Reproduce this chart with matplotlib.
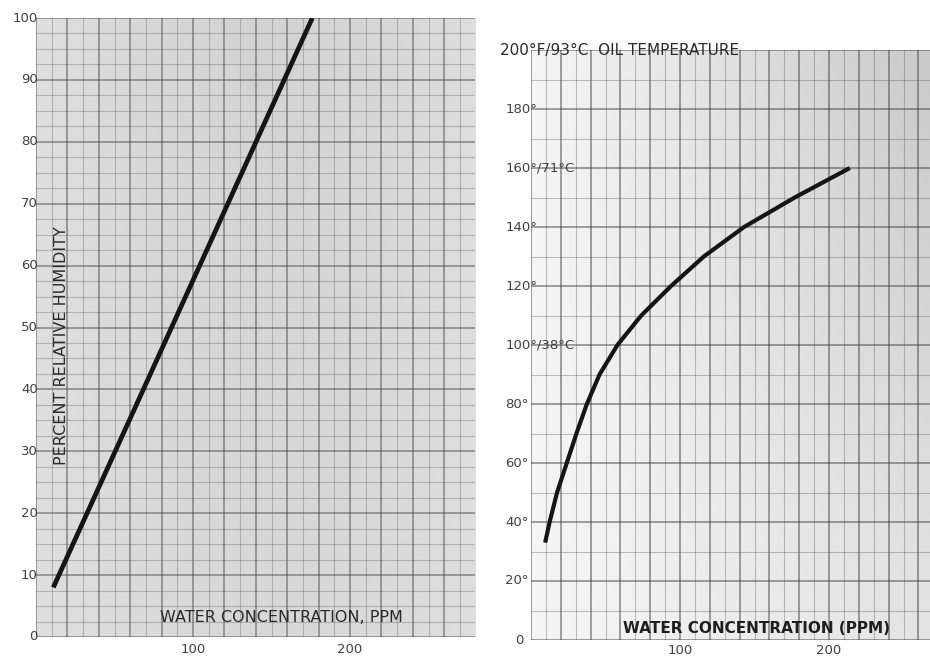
import numpy as np
import matplotlib.pyplot as plt
from matplotlib.ticker import MultipleLocator, NullFormatter

# left chart: percent relative humidity vs water concentration (ppm)
rh_ppm = [11, 176]
rh_pct = [8, 100]
rh_ticks = [0, 10, 20, 30, 40, 50, 60, 70, 80, 90, 100]
rh_labels = ['0', '10', '20', '30', '40', '50', '60', '70', '80', '90', '100']

# right chart: oil temperature (F) vs water concentration (ppm)
temp_ppm = [9.5, 12.5, 17.5, 24, 30.5, 37.5, 46, 58, 74, 94, 116, 143, 177, 214]
temp_f = [33, 40, 50, 60, 70, 80, 90, 100, 110, 120, 130, 140, 150, 160]
temp_ticks = [0, 20, 40, 60, 80, 100, 120, 140, 160, 180]
temp_labels = ['0', '20°', '40°', '60°', '80°', '100°/38°C', '120°', '140°',
               '160°/71°C', '180°']
temp_title = '200°F/93°C  OIL TEMPERATURE'

ppm_ticks = [100, 200]
ppm_labels = ['100', '200']

W, H = 930, 657
fig = plt.figure(figsize=(W / 100, H / 100), dpi=100)
fig.patch.set_facecolor('white')
plt.rcParams['font.family'] = ['DejaVu Sans']

ax1 = fig.add_axes([36 / W, 20 / H, 439 / W, 619 / H])
ax2 = fig.add_axes([531 / W, 17 / H, 399 / W, 590 / H])


def paper(ax, xmaj, xmin, ymaj, ymin, shade, dark):
	# graph paper look: shaded background plus two weights of grid
	ax.imshow(shade, extent=(0, 1, 0, 1), transform=ax.transAxes, aspect='auto',
			  cmap='gray', vmin=0, vmax=1, zorder=0, interpolation='bicubic')
	ax.xaxis.set_major_locator(MultipleLocator(xmaj))
	ax.xaxis.set_minor_locator(MultipleLocator(xmin))
	ax.yaxis.set_major_locator(MultipleLocator(ymaj))
	ax.yaxis.set_minor_locator(MultipleLocator(ymin))
	ax.xaxis.set_major_formatter(NullFormatter())
	ax.yaxis.set_major_formatter(NullFormatter())
	ax.grid(which='major', color='#3c3c3c', lw=1.1, alpha=dark)
	ax.grid(which='minor', color='#5a5a5a', lw=0.8, alpha=dark * 0.6)
	ax.tick_params(which='both', length=0)
	ax.set_axisbelow(True)
	for s in ax.spines.values():
		s.set_visible(False)


gx, gy = np.meshgrid(np.linspace(0, 1, 40), np.linspace(1, 0, 40))
shade1 = 0.87 - 0.04 * np.sin(gx * 3.0) * (0.6 + 0.4 * gy)
shade2 = 0.96 - 0.17 * gx * (0.4 + 0.6 * gy)

paper(ax1, 20, 10, 10, 2.5, shade1, 0.55)
paper(ax2, 20, 10, 20, 10, shade2, 0.6)

fs = 9.5
tcol = '#404040'

# left panel
ax1.plot(rh_ppm, rh_pct, color='#151515', lw=3.4, solid_capstyle='butt', zorder=3)
ax1.set_xlim(0, 439 / 1.57)
ax1.set_ylim(0, 100)
ytr = ax1.get_yaxis_transform()
for v, lab in zip(rh_ticks, rh_labels):
	ax1.text(0.004, v, lab, transform=ytr, ha='right', va='center',
			 fontsize=fs, color=tcol, clip_on=False)
xtr = ax1.get_xaxis_transform()
for v, lab in zip(ppm_ticks, ppm_labels):
	ax1.text(v, -0.021, lab, transform=xtr, ha='center', va='center',
			 fontsize=fs, color=tcol, clip_on=False)
ax1.text(0.56, 0.031, 'WATER CONCENTRATION, PPM', transform=ax1.transAxes,
		 ha='center', va='center', fontsize=11.5, color='#2a2a2a')
ax1.text(0.059, 0.47, 'PERCENT RELATIVE HUMIDITY', transform=ax1.transAxes,
		 ha='center', va='center', rotation=90, fontsize=11.5, color='#2a2a2a')

# right panel
ax2.plot(temp_ppm, temp_f, color='#151515', lw=3.0, solid_capstyle='butt',
		 solid_joinstyle='round', zorder=3)
ax2.set_xlim(0, 399 / 1.49)
ax2.set_ylim(0, 200)
ytr2 = ax2.get_yaxis_transform()
for v, lab in zip(temp_ticks, temp_labels):
	x0 = -0.04 if v == 0 else -0.065
	ax2.text(x0, v, lab, transform=ytr2, ha='left', va='center',
			 fontsize=fs, color=tcol, clip_on=False)
ax2.text(-0.078, 200, temp_title, transform=ytr2, ha='left', va='center',
		 fontsize=11, color='#2a2a2a', clip_on=False)
xtr2 = ax2.get_xaxis_transform()
for v, lab in zip(ppm_ticks, ppm_labels):
	ax2.text(v, -0.017, lab, transform=xtr2, ha='center', va='center',
			 fontsize=fs, color=tcol, clip_on=False)
ax2.text(0.564, 0.02, 'WATER CONCENTRATION (PPM)', transform=ax2.transAxes,
		 ha='center', va='center', fontsize=11, fontweight='bold', color='#1e1e1e')

fig.savefig('out.png', dpi=100)
